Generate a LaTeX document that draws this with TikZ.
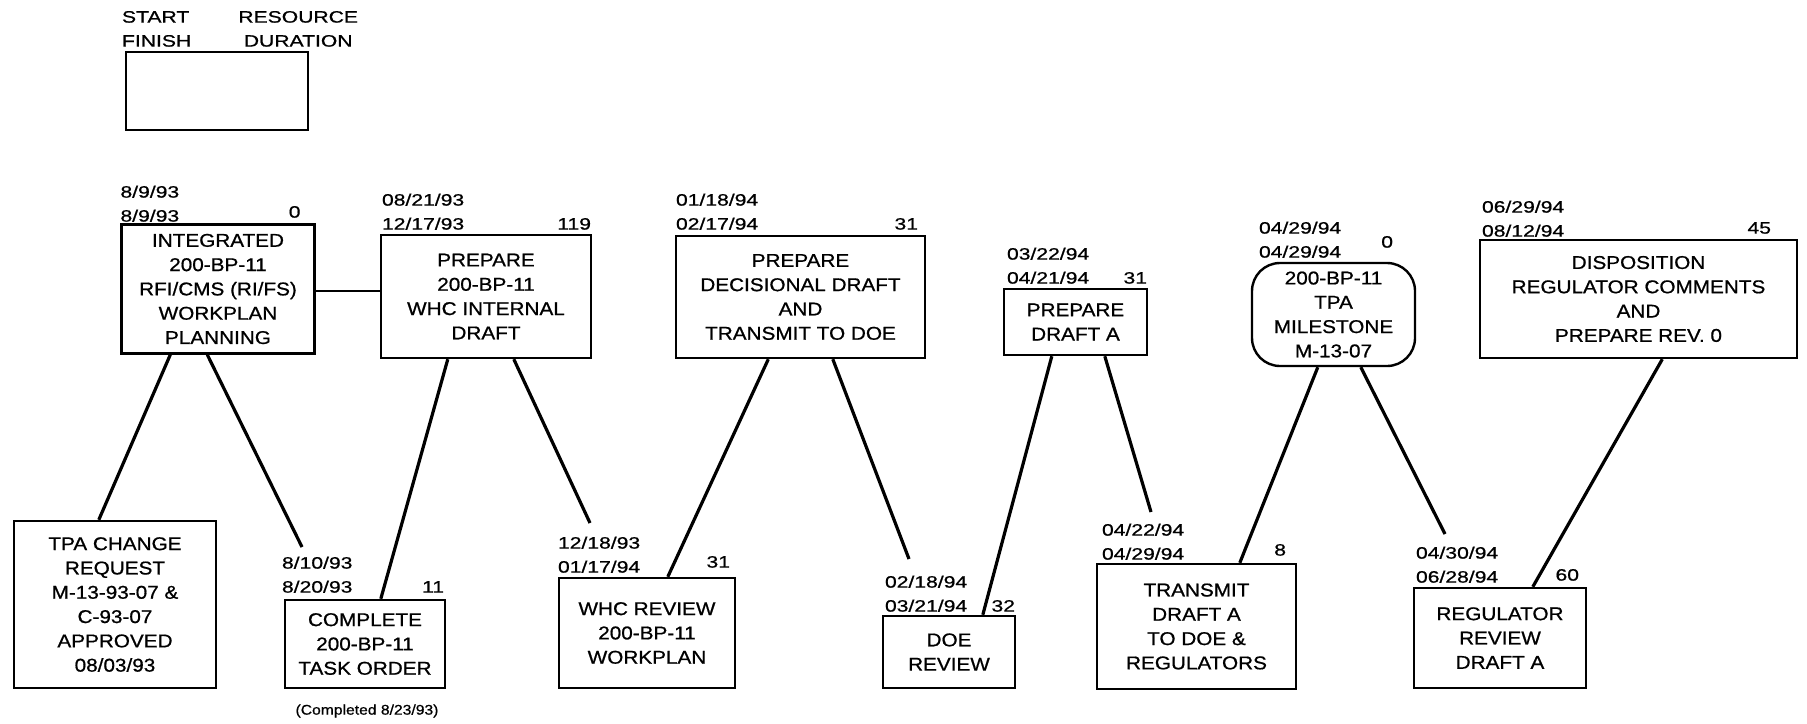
\documentclass[tikz,border=0pt]{standalone}
\usepackage{fontspec}
\setmainfont{Liberation Sans}[FakeStretch=1.12,FakeBold=0.8]
\newfontfamily\lblfont{Liberation Sans}[FakeStretch=1.28,FakeBold=0.8]
\usetikzlibrary{calc}
\begin{document}
\begin{tikzpicture}[x=1pt,y=-1pt,
  box/.style={draw, line width=2.4pt, inner sep=0pt, align=center,
    font=\fontsize{18.5}{24.3}\selectfont},
  lbl/.style={inner sep=0pt, text depth=0pt, align=left, anchor=south west,
    font=\lblfont\fontsize{16.5}{24}\selectfont},
  dur/.style={inner sep=0pt, text depth=0pt, anchor=south east,
    font=\lblfont\fontsize{16.5}{24}\selectfont},
  link/.style={line width=3.2pt}]
\useasboundingbox (0,0) rectangle (1807,723);

% legend
\node[draw, line width=2.4pt, minimum width=182pt, minimum height=78pt, inner sep=0pt] (leg) at (217,91) {};
\node[lbl] (legSF) at ([xshift=-3pt,yshift=4pt]leg.north west) {START\\FINISH};
\node[inner sep=0pt, text depth=0pt, align=center, anchor=south,
  font=\lblfont\fontsize{16.5}{24}\selectfont] (legRD) at ([xshift=-11pt,yshift=4pt]leg.north east) {RESOURCE\\DURATION};

% top row
\node[box, minimum width=193pt, minimum height=129pt] (A) at (218,289) {INTEGRATED\\200-BP-11\\RFI/CMS (RI/FS)\\WORKPLAN\\PLANNING};
\node[lbl] (Ad) at ([yshift=1.5pt]A.north west) {8/9/93\\8/9/93};
\node[dur] (Ar) at ([xshift=-15pt,yshift=5.5pt]A.north east) {0};

\node[box, minimum width=210pt, minimum height=123pt] (B) at (486,296.5) {PREPARE\\200-BP-11\\WHC INTERNAL\\DRAFT};
\node[lbl] (Bd) at ([xshift=2pt,yshift=4pt]B.north west) {08/21/93\\12/17/93};
\node[dur] (Br) at ([xshift=-1pt,yshift=4pt]B.north east) {119};

\node[box, minimum width=249pt, minimum height=122pt] (C) at (800.5,297) {PREPARE\\DECISIONAL DRAFT\\AND\\TRANSMIT TO DOE};
\node[lbl] (Cd) at ([xshift=1pt,yshift=5pt]C.north west) {01/18/94\\02/17/94};
\node[dur] (Cr) at ([xshift=-8pt,yshift=5pt]C.north east) {31};

\node[box, minimum width=143pt, minimum height=66pt] (D) at (1075.5,322) {PREPARE\\DRAFT A};
\node[lbl] (Dd) at ([xshift=4pt,yshift=4pt]D.north west) {03/22/94\\04/21/94};
\node[dur] (Dr) at ([xshift=-1pt,yshift=4pt]D.north east) {31};

\node[box, rounded corners=28pt, minimum width=163pt, minimum height=103pt] (E) at (1333.5,314.5) {200-BP-11\\TPA\\MILESTONE\\M-13-07};
\node[lbl] (Ed) at ([xshift=8pt,yshift=4pt]E.north west) {04/29/94\\04/29/94};
\node[dur] (Er) at ([xshift=-23pt,yshift=14pt]E.north east) {0};

\node[box, minimum width=317pt, minimum height=118pt] (F) at (1638.5,299) {DISPOSITION\\REGULATOR COMMENTS\\AND\\PREPARE REV. 0};
\node[lbl] (Fd) at ([xshift=3pt,yshift=2pt]F.north west) {06/29/94\\08/12/94};
\node[dur] (Fr) at ([xshift=-27pt,yshift=5pt]F.north east) {45};

% bottom row
\node[box, minimum width=202pt, minimum height=167pt] (G) at (115,604.5) {TPA CHANGE\\REQUEST\\M-13-93-07 \&\\C-93-07\\APPROVED\\08/03/93};

\node[box, minimum width=160pt, minimum height=88pt] (H) at (365,644) {COMPLETE\\200-BP-11\\TASK ORDER};
\node[lbl] (Hd) at ([xshift=-2pt,yshift=6pt]H.north west) {8/10/93\\8/20/93};
\node[dur] (Hr) at ([xshift=-2pt,yshift=6pt]H.north east) {11};
\node[inner sep=0pt, font=\fontsize{14}{16}\selectfont] (Hc) at (367,711) {(Completed 8/23/93)};

\node[box, minimum width=176pt, minimum height=110pt] (I) at (647,633) {WHC REVIEW\\200-BP-11\\WORKPLAN};
\node[lbl] (Id) at ([yshift=4pt]I.north west) {12/18/93\\01/17/94};
\node[dur] (Ir) at ([xshift=-6pt,yshift=9pt]I.north east) {31};

\node[box, minimum width=132pt, minimum height=72pt] (J) at (949,652) {DOE\\REVIEW};
\node[lbl] (Jd) at ([xshift=3pt,yshift=3pt]J.north west) {02/18/94\\03/21/94};
\node[dur] (Jr) at ([xshift=-1pt,yshift=3pt]J.north east) {32};

\node[box, minimum width=199pt, minimum height=125pt] (K) at (1196.5,626.5) {TRANSMIT\\DRAFT A\\TO DOE \&\\REGULATORS};
\node[lbl] (Kd) at ([xshift=6pt,yshift=3pt]K.north west) {04/22/94\\04/29/94};
\node[dur] (Kr) at ([xshift=-11pt,yshift=7pt]K.north east) {8};

\node[box, minimum width=172pt, minimum height=100pt] (L) at (1500,638) {REGULATOR\\REVIEW\\DRAFT A};
\node[lbl] (Ld) at ([xshift=3pt,yshift=4pt]L.north west) {04/30/94\\06/28/94};
\node[dur] (Lr) at ([xshift=-8pt,yshift=6pt]L.north east) {60};

% free ends above label blocks
\coordinate (ab) at (0,291);
\coordinate (hA) at (302,547);
\coordinate (iB) at (590,523);
\coordinate (jC) at (909,559);
\coordinate (kD) at (1151,512);
\coordinate (lE) at (1445,534);

% connectors
\draw[line width=2.6pt] (A.east |- ab) -- (B.west |- ab);
\draw[link] ([xshift=50pt]A.south west) -- ([xshift=86pt]G.north west);
\draw[link] ([xshift=87pt]A.south west) -- (hA);
\draw[link] ([xshift=68pt]B.south west) -- ([xshift=97pt]H.north west);
\draw[link] ([xshift=134pt]B.south west) -- (iB);
\draw[link] ([xshift=93.5pt]C.south west) -- ([xshift=110pt]I.north west);
\draw[link] ([xshift=158pt]C.south west) -- (jC);
\draw[link] ([xshift=49pt]D.south west) -- ([xshift=101pt]J.north west);
\draw[link] ([xshift=102pt]D.south west) -- (kD);
\draw[link] ([xshift=67pt]E.south west) -- ([xshift=144pt]K.north west);
\draw[link] ([xshift=110pt]E.south west) -- (lE);
\draw[link] ([xshift=183.5pt]F.south west) -- ([xshift=120pt]L.north west);
\end{tikzpicture}
\end{document}
